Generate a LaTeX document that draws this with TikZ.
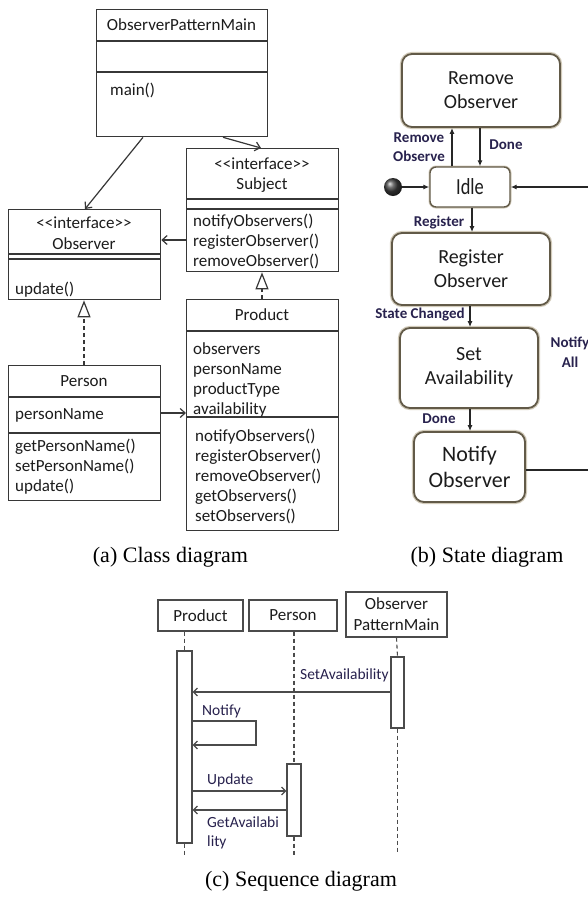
\documentclass[tikz,border=0pt]{standalone}
\usepackage{fontspec}
\setmainfont{Liberation Serif}
\newfontfamily\uml{Carlito}
\newfontfamily\umlnarrow[FakeStretch=0.8]{Carlito}
\usetikzlibrary{arrows.meta}

\definecolor{clsline}{RGB}{55,55,55}
\definecolor{txt}{RGB}{28,28,28}
\definecolor{stline}{RGB}{98,90,72}
\definecolor{stglow}{RGB}{210,203,186}
\definecolor{lbl}{RGB}{40,34,78}
\definecolor{seqline}{RGB}{75,75,75}

\tikzset{
  clsbox/.style={draw=clsline, line width=1.3pt, fill=white, inner sep=0pt, anchor=north west},
  divider/.style={draw=clsline, line width=1.3pt},
  ctitle/.style={font=\uml\fontsize{17}{20}\selectfont, text=txt, inner sep=0pt,
    text height=0.72em, text depth=0.22em, yshift=-3.5pt},
  ctext/.style={ctitle, anchor=west},
  assoc/.style={draw=clsline, line width=1.2pt, -{Straight Barb[length=5pt,width=9pt]}},
  realize/.style={draw=clsline, line width=1.2pt, dash pattern=on 4pt off 3pt,
    -{Triangle[length=17pt,width=13pt,fill=white,line width=1.2pt]}},
  statebox/.style={draw=stline, line width=1.8pt, rounded corners=10pt, fill=white,
    preaction={draw=stglow, line width=4.2pt}, inner sep=0pt, align=center,
    text=txt, font=\uml\fontsize{20}{24}\selectfont},
  sarr/.style={draw=black!85, line width=1.2pt, -{Latex[length=6pt,width=5pt]}},
  slabel/.style={font=\uml\bfseries\fontsize{15}{20}\selectfont, text=lbl, inner sep=0pt, align=center},
  seqbox/.style={draw=seqline, line width=1.2pt, fill=white, inner sep=0pt, align=center,
    text=txt, font=\uml\fontsize{17}{21}\selectfont},
  actbar/.style={draw=seqline, line width=1.2pt, fill=white, inner sep=0pt},
  life/.style={draw=seqline, line width=1.1pt, dash pattern=on 4pt off 3pt},
  msg/.style={draw=seqline, line width=1.2pt, -{Straight Barb[length=4pt,width=8pt]}},
  mlabel/.style={font=\uml\fontsize{15.5}{19}\selectfont, text=lbl, inner sep=0pt, anchor=west,
    text height=0.72em, text depth=0.22em, yshift=-3pt},
  caption/.style={font=\fontsize{22}{26}\selectfont, text=black, inner sep=0pt}
}

\begin{document}
\begin{tikzpicture}[x=1pt,y=-1pt]
\useasboundingbox (0,0) rectangle (588,898);
\clip (0,0) rectangle (588,898);
\fill[white] (0,0) rectangle (588,898);

% ---------------- (a) class diagram ----------------
% ObserverPatternMain
\node[clsbox, minimum width=171pt, minimum height=127pt] (opm) at (96,9) {};
\draw[divider] (opm.west |- 0,41) -- (opm.east |- 0,41);
\draw[divider] (opm.west |- 0,72) -- (opm.east |- 0,72);
\node[ctitle] (opmName) at (181.5,24) {ObserverPatternMain};
\node[ctext] (opmMain) at (110,89) {main()};

% Subject interface
\node[clsbox, minimum width=152pt, minimum height=123pt] (sub) at (186,148) {};
\draw[divider] (sub.west |- 0,199) -- (sub.east |- 0,199);
\draw[divider] (sub.west |- 0,209) -- (sub.east |- 0,209);
\node[ctitle] (subSt) at (262,163) {<\kern0pt<interface>\kern0pt>};
\node[ctitle] (subName) at (262,183) {Subject};
\foreach \t [count=\i] in {notifyObservers(),registerObserver(),removeObserver()}
  \node[ctext, name=subM\i] at (193,200+20*\i) {\t};

% Observer interface
\node[clsbox, minimum width=152pt, minimum height=90pt] (obs) at (8,209) {};
\draw[divider] (obs.west |- 0,254) -- (obs.east |- 0,254);
\draw[divider] (obs.west |- 0,259) -- (obs.east |- 0,259);
\node[ctitle] (obsSt) at (84,222) {<\kern0pt<interface>\kern0pt>};
\node[ctitle] (obsName) at (84,243) {Observer};
\node[ctext] (obsM1) at (15,288) {update()};

% Person
\node[clsbox, minimum width=152pt, minimum height=135pt] (per) at (8,365) {};
\draw[divider] (per.west |- 0,397) -- (per.east |- 0,397);
\draw[divider] (per.west |- 0,433) -- (per.east |- 0,433);
\node[ctitle] (perName) at (84,380) {Person};
\node[ctext] (perA1) at (15,413) {personName};
\foreach \t [count=\i] in {getPersonName(),setPersonName(),update()}
  \node[ctext, name=perM\i] at (15,425+20*\i) {\t};

% Product
\node[clsbox, minimum width=152pt, minimum height=231pt] (prod) at (186,299) {};
\draw[divider] (prod.west |- 0,331) -- (prod.east |- 0,331);
\draw[divider] (prod.west |- 0,417) -- (prod.east |- 0,417);
\node[ctitle] (prodName) at (262,314) {Product};
\foreach \t [count=\i] in {observers,personName,productType,availability}
  \node[ctext, name=prodA\i] at (193,328+20*\i) {\t};
\foreach \t [count=\i] in {notifyObservers(),registerObserver(),removeObserver(),getObservers(),setObservers()}
  \node[ctext, name=prodM\i] at (195,415+20*\i) {\t};

% class relations
\draw[assoc] ([xshift=47pt]opm.south west) -- ([xshift=77pt]obs.north west);
\draw[assoc] ([xshift=127pt]opm.south west) -- ([xshift=75pt]sub.north west);
\draw[assoc] (sub.west |- 0,240) -- (obs.east |- 0,240);
\draw[assoc] (per.east |- 0,413) -- (prod.west |- 0,413);
\draw[realize] ([xshift=76pt]prod.north west) -- ([xshift=76pt]sub.south west);
\draw[realize] ([xshift=76pt]per.north west) -- ([xshift=76pt]obs.south west);

% ---------------- (b) state diagram ----------------
\node[statebox, minimum width=158pt, minimum height=73pt] (rem) at (481,90.5) {Remove\\Observer};
\node[draw=stline, line width=1.4pt, rounded corners=6pt, fill=white,
      preaction={draw=stglow, line width=3pt}, inner sep=0pt,
      minimum width=80pt, minimum height=40pt, text=txt,
      font=\umlnarrow\fontsize{23}{26}\selectfont] (idle) at (470,187) {Idle};
\node[statebox, minimum width=158pt, minimum height=72pt] (reg) at (471,269) {Register\\Observer};
\node[statebox, minimum width=138pt, minimum height=80pt] (set) at (469,368) {Set\\Availability};
\node[statebox, minimum width=111pt, minimum height=70pt,
      font=\uml\fontsize{22}{26}\selectfont] (ntf) at (469.5,467) {Notify\\Observer};
\node[circle, minimum size=18pt, inner sep=0pt, shading=ball, ball color=black!75] (dot) at (393,187) {};

\coordinate (loopA) at (606,470);
\coordinate (loopB) at (606,187);

\draw[sarr] (dot.east) -- (idle.west);
\draw[sarr] (idle.north -| 452,0) -- (rem.south -| 452,0);
\draw[sarr] (rem.south -| 480,0) -- (idle.north -| 480,0);
\draw[sarr] (idle.south -| 472,0) -- (reg.north -| 472,0);
\draw[sarr] (reg.south -| 470,0) -- (set.north -| 470,0);
\draw[sarr] (set.south -| 470,0) -- (ntf.north -| 470,0);
\draw[sarr] (ntf.east |- loopA) -- (loopA) -- (loopB) -- (idle.east);

\node[slabel] (lRem) at (419,147) {Remove\\[-0.5pt]Observe};
\node[slabel] (lDone1) at (506,145) {Done};
\node[slabel] (lReg) at (439,223) {Register};
\node[slabel] (lState) at (420,315) {State Changed};
\node[slabel] (lDone2) at (439,419) {Done};
\node[slabel] (lAll) at (570,352) {Notify\\All};

% ---------------- (c) sequence diagram ----------------
\node[seqbox, minimum width=85pt, minimum height=31pt] (pH) at (200.5,615.5) {Product};
\node[seqbox, minimum width=88pt, minimum height=31pt] (peH) at (293,615.5) {Person};
\node[seqbox, minimum width=101pt, minimum height=45pt] (oH) at (396.5,614.5) {Observer\\PatternMain};

\node[actbar, minimum width=15pt, minimum height=192pt] (pA) at (184.5,747) {};
\node[actbar, minimum width=13pt, minimum height=71pt] (oA) at (397.5,692.5) {};
\node[actbar, minimum width=14pt, minimum height=72pt] (peA) at (294,800) {};

\coordinate (pEnd) at (184.5,855);
\coordinate (peEnd) at (294,855);
\coordinate (oEnd) at (397.5,853);

\draw[life] (pA.north |- pH.south) -- (pA.north);
\draw[life] (pA.south) -- (pEnd);
\draw[life] (peA.north |- peH.south) -- (peA.north);
\draw[life] (peA.south) -- (peEnd);
\draw[life] (oH.south) -- (oA.north);
\draw[life] (oA.south) -- (oEnd);

\coordinate (selfA) at (256,721);
\coordinate (selfB) at (256,745);
\draw[msg] (oA.west |- 0,692) -- (pA.east |- 0,692);
\draw[msg] (pA.east |- selfA) -- (selfA) -- (selfB) -- (pA.east |- selfB);
\draw[msg] (pA.east |- 0,791) -- (peA.west |- 0,791);
\draw[msg] (peA.west |- 0,810) -- (pA.east |- 0,810);

\node[mlabel] (mSet) at (300,674) {SetAvailability};
\node[mlabel] (mNotify) at (202,710) {Notify};
\node[mlabel] (mUpdate) at (207,779) {Update};
\node[mlabel] (mGet1) at (207,822) {GetAvailabi};
\node[mlabel] (mGet2) at (207,841) {lity};

% ---------------- captions ----------------
\node[caption] (capA) at (170.5,557) {(a) Class diagram};
\node[caption] (capB) at (487,557) {(b) State diagram};
\node[caption] (capC) at (301,881) {(c) Sequence diagram};
\end{tikzpicture}
\end{document}
